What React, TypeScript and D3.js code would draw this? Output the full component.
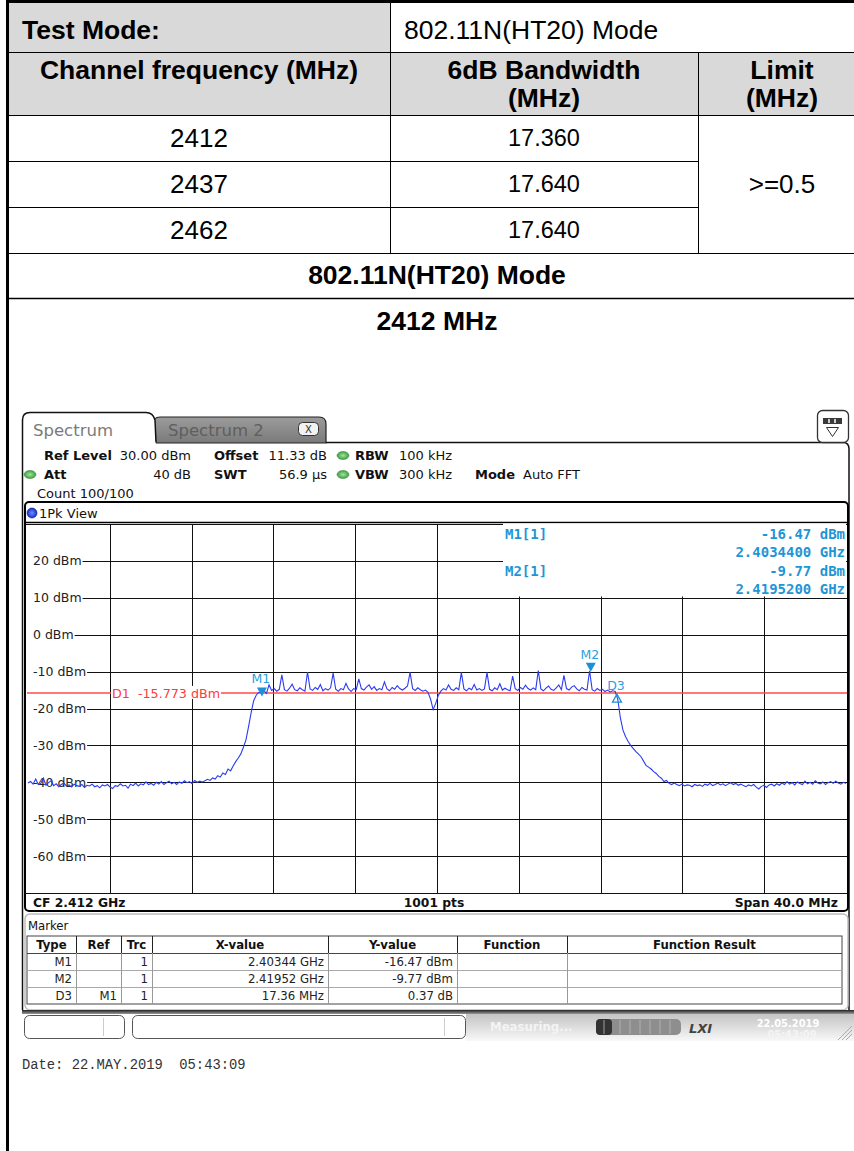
import React, { useEffect, useRef } from "react";
import * as d3 from "d3";

const W = 854;
const H = 1151;

// ---------- summary table ----------
const testModeLabel = "Test Mode:";
const testMode = "802.11N(HT20) Mode";
const headerCols = ["Channel frequency (MHz)", "6dB Bandwidth|(MHz)", "Limit|(MHz)"];
const channelFreqs = ["2412", "2437", "2462"];
const bandwidths = ["17.360", "17.640", "17.640"];
const limitText = ">=0.5";
const plotTitle = "2412 MHz";

// ---------- analyzer settings ----------
const startMHz = 2392;
const stopMHz = 2432;
const refLevel = 30;
const bottomLevel = -70;
const freqDivisions = [2396, 2400, 2404, 2408, 2412, 2416, 2420, 2424, 2428];
const levelLines = [30, 20, 10, 0, -10, -20, -30, -40, -50, -60, -70];
const levelLabels = [20, 10, 0, -10, -20, -30, -40, -50, -60];
const displayLineLevel = -15.773;

// trace, 321 sweep points evenly spaced over the 40 MHz span (dBm)
const traceLevels = [
  -40.2, -39.8, -40.5, -39.1, -40.6, -40.3, -38.9, -40.8, -40.1, -39.6,
  -40.9, -40.4, -41.2, -40.6, -40.2, -41.0, -40.7, -41.3, -40.5, -40.9,
  -41.1, -40.6, -41.4, -40.8, -41.0, -40.5, -41.2, -40.9, -41.5, -40.7,
  -41.0, -40.6, -41.3, -41.7, -40.9, -41.1, -40.4, -41.0, -40.8, -41.6,
  -40.5, -40.9, -40.2, -41.0, -40.4, -40.7, -39.9, -40.6, -40.3, -40.8,
  -40.0, -40.5, -39.8, -40.6, -40.1, -39.7, -40.4, -40.0, -40.6, -39.9,
  -40.3, -39.6, -40.1, -39.8, -40.4, -39.5, -40.0, -39.7, -39.9,
  -39.6, -39.2, -39.5, -38.8, -39.1, -38.2, -38.6, -37.5, -37.9, -36.4,
  -36.9, -35.6, -34.4, -33.4, -32.3, -30.5, -28.5, -25.0, -21.2, -17.9,
  -16.4, -15.6,
  -15.8, -15.2, -15.9, -13.6, -15.1, -14.6, -15.3, -14.8,
  -10.9, -14.9, -15.3, -14.5, -13.4, -14.9, -15.2, -14.4, -14.9, -15.3,
  -10.1, -14.7, -15.1, -14.3, -14.8, -13.5, -15.2, -14.6, -15.0, -14.4,
  -10.4, -14.8, -15.3, -14.6, -14.9, -13.2, -14.7, -15.4, -14.6, -14.9,
  -12.0, -14.6, -15.0, -14.2, -13.6, -14.8, -14.1, -15.1, -14.6, -14.9,
  -12.8, -14.7, -15.2, -14.3, -14.8, -13.8, -14.6, -15.0, -14.5, -13.9,
  -10.2, -14.6, -15.1, -14.4, -14.9, -15.3, -15.0, -15.6, -17.5, -20.3,
  -18.6, -16.5, -15.3, -14.6, -15.0, -13.6, -14.8, -15.1, -14.4, -14.9,
  -10.2, -14.7, -15.2, -14.5, -14.9, -13.5, -15.0, -14.6, -15.1, -14.7,
  -10.2, -14.8, -15.2, -14.4, -14.9, -13.3, -15.0, -14.5, -14.9, -15.2,
  -11.2, -14.6, -15.1, -14.3, -14.8, -13.7, -14.6, -15.0, -14.4, -14.9,
  -9.7, -14.7, -15.2, -14.5, -13.9, -14.8, -15.1, -14.4, -13.6, -14.9,
  -11.0, -14.6, -15.0, -14.2, -13.8, -14.7, -15.2, -14.3, -14.8, -15.0,
  -9.77, -14.9, -15.3, -14.6, -15.1, -14.8, -15.4, -15.0, -15.5, -15.2,
  -15.4, -17.5, -22.5, -25.8, -27.6, -28.9, -30.0, -30.8, -31.6, -32.3,
  -33.0, -34.2, -35.4, -35.9, -36.4, -37.1, -37.6, -38.4, -38.9, -39.8,
  -39.5, -40.3, -40.6, -40.2,
  -40.6, -40.9, -40.5, -41.0, -40.7, -40.8, -41.2, -40.6, -40.9, -40.7,
  -41.1, -40.5, -40.8, -40.3, -40.9, -40.6, -40.2, -40.7, -40.4, -40.9,
  -40.5, -40.1, -40.6, -40.3, -40.8, -40.5, -40.9, -41.2, -40.7, -41.0,
  -40.6, -41.3, -41.8, -41.1, -40.8, -41.4, -40.7, -40.5, -41.0, -40.4,
  -40.8, -40.2, -40.6, -39.8, -40.5, -40.1, -40.7, -39.9, -40.3, -40.6,
  -39.7, -40.4, -40.0, -40.5, -39.6, -40.2, -40.4, -39.9, -40.6, -40.1,
  -39.8, -40.3, -39.7, -40.2, -40.5, -40.0, -40.3,
];

// markers
const markerNames = ["M1", "M2", "D3"];
const markerFreqMHz = [2403.44, 2419.52, 2420.8];
const markerLevels = [-16.47, -9.77, -16.1];
const markerKinds = ["normal", "normal", "delta"];

const markerInfoLines = [
  ["M1[1]", "-16.47 dBm"],
  ["", "2.4034400 GHz"],
  ["M2[1]", "-9.77 dBm"],
  ["", "2.4195200 GHz"],
];

const markerTableHeaders = ["Type", "Ref", "Trc", "X-value", "Y-value", "Function", "Function Result"];
const markerTableRows = [
  ["M1", "", "1", "2.40344 GHz", "-16.47 dBm", "", ""],
  ["M2", "", "1", "2.41952 GHz", "-9.77 dBm", "", ""],
  ["D3", "M1", "1", "17.36 MHz", "0.37 dB", "", ""],
];

const infoRows = [
  [
    { t: "Ref Level", b: true, x: 44 },
    { t: "30.00 dBm", x: 191, end: true },
    { t: "Offset", b: true, x: 214 },
    { t: "11.33 dB", x: 327, end: true },
    { t: "RBW", b: true, x: 355, dot: true },
    { t: "100 kHz", x: 399 },
  ],
  [
    { t: "Att", b: true, x: 44, dotLeft: true },
    { t: "40 dB", x: 191, end: true },
    { t: "SWT", b: true, x: 214 },
    { t: "56.9 µs", x: 327, end: true },
    { t: "VBW", b: true, x: 355, dot: true },
    { t: "300 kHz", x: 399 },
    { t: "Mode", b: true, x: 475 },
    { t: "Auto FFT", x: 523 },
  ],
  [{ t: "Count 100/100", x: 37 }],
];

const TF = "'Liberation Sans', Arial, sans-serif";
const SF = "'DejaVu Sans', Verdana, sans-serif";
const CF = "'DejaVu Sans Condensed', 'DejaVu Sans', sans-serif";
const MF = "'DejaVu Sans Mono', monospace";

function draw(svgEl: SVGSVGElement) {
  const svg = d3.select(svgEl);
  svg.selectAll("*").remove();
  const defs = svg.append("defs");

  svg.append("rect").attr("width", W).attr("height", H).attr("fill", "#fff");

  // ---------------- table ----------------
  const t = svg.append("g");
  const gray = "#d9d9d9";
  t.append("rect").attr("x", 8).attr("y", 2).attr("width", 382).attr("height", 50).attr("fill", gray);
  t.append("rect").attr("x", 8).attr("y", 52).attr("width", 846).attr("height", 63).attr("fill", gray);

  const hl = (y: number, x1: number, x2: number, w = 1) =>
    t.append("line").attr("x1", x1).attr("x2", x2).attr("y1", y).attr("y2", y).attr("stroke", "#000").attr("stroke-width", w);
  const vl = (x: number, y1: number, y2: number, w = 1) =>
    t.append("line").attr("x1", x).attr("x2", x).attr("y1", y1).attr("y2", y2).attr("stroke", "#000").attr("stroke-width", w);
  hl(52.5, 8, 854);
  hl(115.5, 8, 854);
  hl(161.5, 8, 698);
  hl(207.5, 8, 698);
  hl(253.5, 8, 854);
  hl(298.5, 8, 854, 1.5);
  vl(390.5, 2, 253);
  vl(698.5, 52, 253);
  t.append("rect").attr("x", 6).attr("y", 0).attr("width", 848).attr("height", 3).attr("fill", "#000");
  t.append("rect").attr("x", 6).attr("y", 0).attr("width", 3).attr("height", H).attr("fill", "#000");

  const txt = (s: string, x: number, y: number, opts: any = {}) =>
    t.append("text").attr("x", x).attr("y", y).text(s)
      .attr("font-family", TF).attr("font-size", opts.size || 26.5)
      .attr("font-weight", opts.bold ? "bold" : "normal")
      .attr("text-anchor", opts.anchor || "middle").attr("fill", "#000");

  txt(testModeLabel, 22, 39, { bold: true, anchor: "start" });
  txt(testMode, 404, 39, { anchor: "start", size: 26.5 });
  const colCenters = [199, 544, 782];
  headerCols.forEach((h, i) => {
    const parts = h.split("|");
    parts.forEach((p, j) => txt(p, colCenters[i], 79 + j * 28, { bold: true }));
  });
  const rowBase = [147, 193, 239];
  channelFreqs.forEach((c, i) => txt(c, colCenters[0], rowBase[i], { size: 26 }));
  bandwidths.forEach((b, i) => txt(b, colCenters[1], rowBase[i] - 1, { size: 23.5 }));
  txt(limitText, colCenters[2], 193, { size: 26 });
  txt(testMode, 437, 284, { bold: true });
  txt(plotTitle, 437, 330, { bold: true });

  // ---------------- analyzer ----------------
  const a = svg.append("g");

  const g1 = defs.append("linearGradient").attr("id", "tab2").attr("x1", 0).attr("x2", 0).attr("y1", 0).attr("y2", 1);
  g1.append("stop").attr("offset", "0").attr("stop-color", "#9c9c9c");
  g1.append("stop").attr("offset", "1").attr("stop-color", "#7a7a7a");
  const g2 = defs.append("radialGradient").attr("id", "gdot");
  g2.append("stop").attr("offset", "0").attr("stop-color", "#9be89b");
  g2.append("stop").attr("offset", "1").attr("stop-color", "#3f9f3f");
  const g3 = defs.append("radialGradient").attr("id", "bdot");
  g3.append("stop").attr("offset", "0").attr("stop-color", "#6f8fff");
  g3.append("stop").attr("offset", "1").attr("stop-color", "#1030d0");
  const g4 = defs.append("linearGradient").attr("id", "sbar").attr("x1", 0).attr("x2", 0).attr("y1", 0).attr("y2", 1);
  g4.append("stop").attr("offset", "0").attr("stop-color", "#c4c4c4");
  g4.append("stop").attr("offset", "1").attr("stop-color", "#f8f8f8");
  const g5 = defs.append("linearGradient").attr("id", "sline").attr("x1", 0).attr("x2", 0).attr("y1", 0).attr("y2", 1);
  g5.append("stop").attr("offset", "0").attr("stop-color", "#222");
  g5.append("stop").attr("offset", "1").attr("stop-color", "#999");

  // tab 2
  a.append("path")
    .attr("d", "M153,443 V424 Q153,417 160,417 H319 Q326,417 326,424 V443 Z")
    .attr("fill", "url(#tab2)").attr("stroke", "#222").attr("stroke-width", 1.2);
  a.append("text").attr("x", 168).attr("y", 436).text("Spectrum 2")
    .attr("font-family", SF).attr("font-size", 16.5).attr("fill", "#5e5e5e");
  a.append("rect").attr("x", 298.5).attr("y", 422.5).attr("width", 20).attr("height", 13).attr("rx", 4)
    .attr("fill", "#f2f2f2").attr("stroke", "#333");
  a.append("text").attr("x", 308.5).attr("y", 433).text("X").attr("text-anchor", "middle")
    .attr("font-family", SF).attr("font-size", 10).attr("fill", "#333");

  // panel top line
  a.append("path").attr("d", "M326,442.5 H843 Q849,442.5 849,449 V1010")
    .attr("fill", "none").attr("stroke", "#111").attr("stroke-width", 1.5);
  // tab 1
  a.append("path")
    .attr("d", "M22.5,1010 V420 Q22.5,412.5 30,412.5 H146 Q153,412.5 155,420 L156,442.5")
    .attr("fill", "#fff").attr("stroke", "#111").attr("stroke-width", 1.5);
  a.append("text").attr("x", 33).attr("y", 436).text("Spectrum")
    .attr("font-family", SF).attr("font-size", 16.5).attr("fill", "#7a7a7a");

  // right icon
  a.append("rect").attr("x", 817.5).attr("y", 410.5).attr("width", 31).attr("height", 32).attr("rx", 5)
    .attr("fill", "#fff").attr("stroke", "#333").attr("stroke-width", 1.3);
  a.append("rect").attr("x", 823).attr("y", 418).attr("width", 19).attr("height", 6).attr("fill", "#3a3a3a");
  [829, 835].forEach((xx) =>
    a.append("line").attr("x1", xx).attr("x2", xx).attr("y1", 419).attr("y2", 423).attr("stroke", "#fff").attr("stroke-width", 1.5));
  a.append("path").attr("d", "M826.5,427.5 H838.5 L832.5,436.5 Z").attr("fill", "none").attr("stroke", "#333");

  // info rows
  const infoY = [460, 479, 498];
  infoRows.forEach((row, ri) => {
    row.forEach((c: any) => {
      a.append("text").attr("x", c.x).attr("y", infoY[ri]).text(c.t)
        .attr("font-family", SF).attr("font-size", 13)
        .attr("font-weight", c.b ? "bold" : "normal")
        .attr("text-anchor", c.end ? "end" : "start").attr("fill", "#111");
      if (c.dot) {
        a.append("ellipse").attr("cx", c.x - 12).attr("cy", infoY[ri] - 4.5).attr("rx", 6).attr("ry", 4)
          .attr("fill", "url(#gdot)").attr("stroke", "#4a8a4a").attr("stroke-width", 0.6);
      }
      if (c.dotLeft) {
        a.append("ellipse").attr("cx", 30).attr("cy", infoY[ri] - 4.5).attr("rx", 6).attr("ry", 4)
          .attr("fill", "url(#gdot)").attr("stroke", "#4a8a4a").attr("stroke-width", 0.6);
      }
    });
  });

  // plot frame
  const x = d3.scaleLinear().domain([startMHz, stopMHz]).range([28, 846]);
  const y = d3.scaleLinear().domain([bottomLevel, refLevel]).range([893, 524]);

  a.append("rect").attr("x", 25).attr("y", 502).attr("width", 823).attr("height", 409).attr("rx", 4)
    .attr("fill", "#fff").attr("stroke", "#000").attr("stroke-width", 2);
  a.append("line").attr("x1", 25).attr("x2", 848).attr("y1", 522.5).attr("y2", 522.5).attr("stroke", "#000").attr("stroke-width", 1.5);
  a.append("circle").attr("cx", 32).attr("cy", 513).attr("r", 5).attr("fill", "url(#bdot)").attr("stroke", "#0a1a80").attr("stroke-width", 0.6);
  a.append("text").attr("x", 39).attr("y", 517.5).text("1Pk View")
    .attr("font-family", SF).attr("font-size", 13).attr("fill", "#111");

  const grid = a.append("g");
  freqDivisions.forEach((f) =>
    grid.append("line").attr("x1", Math.round(x(f)) + 0.5).attr("x2", Math.round(x(f)) + 0.5)
      .attr("y1", y(refLevel)).attr("y2", y(bottomLevel)).attr("stroke", "#111").attr("stroke-width", 1));

  const labelX = 33;
  levelLines.forEach((lv) => {
    let x1 = 25;
    if (levelLabels.includes(lv)) {
      const tx = grid.append("text").attr("x", labelX).attr("y", y(lv) + 4.5).text(`${lv} dBm`)
        .attr("font-family", SF).attr("font-size", 12.5).attr("fill", "#222");
      const len = (tx.node() as SVGTextElement).getComputedTextLength();
      x1 = labelX + len + 1;
      grid.append("rect").attr("x", 26).attr("y", y(lv) - 7).attr("width", x1 - 26).attr("height", 13).attr("fill", "#fff").lower();
    }
    grid.append("line").attr("x1", x1).attr("x2", 847).attr("y1", Math.round(y(lv)) + 0.5).attr("y2", Math.round(y(lv)) + 0.5)
      .attr("stroke", "#111").attr("stroke-width", 1);
  });
  grid.selectAll("text").raise();

  // marker info box
  const ib = a.append("g");
  ib.append("rect").attr("x", 503).attr("y", 523.5).attr("width", 343).attr("height", 73).attr("fill", "#fff");
  const infoLineY = [539, 557, 576, 594];
  markerInfoLines.forEach((ln, i) => {
    if (ln[0]) ib.append("text").attr("x", 505).attr("y", infoLineY[i]).text(ln[0])
      .attr("font-family", MF).attr("font-size", 14).attr("font-weight", "bold").attr("fill", "#1e96d6");
    ib.append("text").attr("x", 845).attr("y", infoLineY[i]).text(ln[1]).attr("text-anchor", "end")
      .attr("font-family", MF).attr("font-size", 14).attr("font-weight", "bold").attr("fill", "#1e96d6");
  });

  // display line D1
  const dlY = y(displayLineLevel);
  a.append("line").attr("x1", 27).attr("x2", 847).attr("y1", dlY).attr("y2", dlY)
    .attr("stroke", "#ff4a4a").attr("stroke-width", 1.5);
  a.append("rect").attr("x", 111).attr("y", dlY - 7).attr("width", 110).attr("height", 13).attr("fill", "#fff");
  a.append("text").attr("x", 112).attr("y", dlY + 4.6).text(`D1  ${displayLineLevel.toFixed(3)} dBm`)
    .attr("font-family", SF).attr("font-size", 12.7).attr("fill", "#ff3a3a").style("white-space", "pre");

  // trace
  const step = (stopMHz - startMHz) / (traceLevels.length - 1);
  const line = d3.line<number>().x((d, i) => x(startMHz + i * step)).y((d) => y(d));
  defs.append("clipPath").attr("id", "plotclip").append("rect").attr("x", 26).attr("y", 524).attr("width", 821).attr("height", 370);
  a.append("path").attr("d", line(traceLevels) as string).attr("fill", "none")
    .attr("stroke", "#2a3cf2").attr("stroke-width", 1.1).attr("clip-path", "url(#plotclip)");

  // markers
  const mColor = "#1e90d8";
  markerNames.forEach((n, i) => {
    const mx = x(markerFreqMHz[i]);
    const my = y(markerLevels[i]);
    if (markerKinds[i] === "normal") {
      a.append("path").attr("d", `M${mx - 5},${my - 8} H${mx + 5} L${mx},${my + 1} Z`).attr("fill", mColor);
      a.append("text").attr("x", mx - 1).attr("y", my - 12).text(n).attr("text-anchor", "middle")
        .attr("font-family", SF).attr("font-size", 12.5).attr("fill", "#2a9fdc");
    } else {
      a.append("path").attr("d", `M${mx},${my} L${mx + 4.5},${my + 8} H${mx - 4.5} Z`).attr("fill", "none")
        .attr("stroke", mColor).attr("stroke-width", 1.3);
      a.append("text").attr("x", mx - 1).attr("y", my - 4).text(n).attr("text-anchor", "middle")
        .attr("font-family", SF).attr("font-size", 12.5).attr("fill", "#2a9fdc");
    }
  });

  // bottom strip
  const by = 907;
  const bs = (s: string, xx: number, anchor: string) =>
    a.append("text").attr("x", xx).attr("y", by).text(s).attr("text-anchor", anchor)
      .attr("font-family", SF).attr("font-size", 12.3).attr("font-weight", "bold").attr("fill", "#111");
  bs("CF 2.412 GHz", 33, "start");
  bs("1001 pts", 434, "middle");
  bs("Span 40.0 MHz", 838, "end");

  // marker panel
  a.append("rect").attr("x", 25).attr("y", 914).attr("width", 823).attr("height", 96).attr("rx", 5)
    .attr("fill", "#fff").attr("stroke", "#bdbdbd").attr("stroke-width", 1.5);
  a.append("text").attr("x", 28).attr("y", 930).text("Marker").attr("font-family", CF).attr("font-size", 13).attr("fill", "#111");
  const edges = [27, 76, 121, 152, 328, 457, 567, 842];
  const rowYs = [936, 953, 970, 987, 1004];
  a.append("rect").attr("x", edges[0]).attr("y", rowYs[0]).attr("width", edges[7] - edges[0]).attr("height", rowYs[4] - rowYs[0])
    .attr("fill", "none").attr("stroke", "#444").attr("stroke-width", 1);
  rowYs.slice(1, 4).forEach((ry, i) =>
    a.append("line").attr("x1", edges[0]).attr("x2", edges[7]).attr("y1", ry + 0.5).attr("y2", ry + 0.5)
      .attr("stroke", i === 0 ? "#444" : "#aaa"));
  edges.slice(1, 7).forEach((ex) => {
    a.append("line").attr("x1", ex + 0.5).attr("x2", ex + 0.5).attr("y1", rowYs[0]).attr("y2", rowYs[1])
      .attr("stroke", "#222");
    a.append("line").attr("x1", ex + 0.5).attr("x2", ex + 0.5).attr("y1", rowYs[1]).attr("y2", rowYs[4])
      .attr("stroke", "#999");
  });
  markerTableHeaders.forEach((h, i) =>
    a.append("text").attr("x", (edges[i] + edges[i + 1]) / 2).attr("y", rowYs[0] + 13).text(h)
      .attr("text-anchor", "middle").attr("font-family", CF).attr("font-size", 13).attr("font-weight", "bold").attr("fill", "#111"));
  markerTableRows.forEach((r, ri) =>
    r.forEach((c, ci) => {
      if (!c) return;
      a.append("text").attr("x", edges[ci + 1] - 4).attr("y", rowYs[ri + 1] + 13).text(c)
        .attr("text-anchor", "end").attr("font-family", CF).attr("font-size", 13).attr("fill", "#222");
    }));

  // status bar
  a.append("rect").attr("x", 22).attr("y", 1010).attr("width", 832).attr("height", 4).attr("fill", "url(#sline)");
  a.append("rect").attr("x", 466).attr("y", 1014).attr("width", 388).attr("height", 27).attr("fill", "url(#sbar)");
  a.append("rect").attr("x", 24.5).attr("y", 1015.5).attr("width", 100).attr("height", 23).attr("rx", 5)
    .attr("fill", "#fff").attr("stroke", "#555");
  a.append("line").attr("x1", 103.5).attr("x2", 103.5).attr("y1", 1018).attr("y2", 1036).attr("stroke", "#ccc");
  a.append("rect").attr("x", 132.5).attr("y", 1015.5).attr("width", 333).attr("height", 23).attr("rx", 5)
    .attr("fill", "#fff").attr("stroke", "#555");
  a.append("line").attr("x1", 444.5).attr("x2", 444.5).attr("y1", 1018).attr("y2", 1036).attr("stroke", "#ccc");
  a.append("text").attr("x", 490).attr("y", 1031).text("Measuring...").attr("font-family", CF).attr("font-size", 13)
    .attr("font-weight", "bold").attr("fill", "#f4f4f4");
  a.append("rect").attr("x", 596).attr("y", 1019).attr("width", 85).attr("height", 16).attr("rx", 5).attr("fill", "#8e8e8e");
  a.append("rect").attr("x", 596).attr("y", 1019).attr("width", 16).attr("height", 16).attr("rx", 4).attr("fill", "#333");
  [604, 620, 630, 640, 650, 660, 670].forEach((sx) =>
    a.append("line").attr("x1", sx).attr("x2", sx).attr("y1", 1020).attr("y2", 1034).attr("stroke", "#bbb").attr("stroke-width", 0.8));
  a.append("text").attr("x", 689).attr("y", 1033).text("LXI").attr("font-family", SF).attr("font-size", 13)
    .attr("font-weight", "bold").attr("font-style", "italic").attr("fill", "#444");
  a.append("text").attr("x", 788).attr("y", 1027).text("22.05.2019").attr("text-anchor", "middle")
    .attr("font-family", CF).attr("font-size", 11).attr("font-weight", "bold").attr("fill", "#fff");
  a.append("text").attr("x", 792).attr("y", 1038).text("05:43:09").attr("text-anchor", "middle")
    .attr("font-family", CF).attr("font-size", 11).attr("font-weight", "bold").attr("fill", "#f4f4f4");
  [0, 4, 8].forEach((o) =>
    a.append("line").attr("x1", 838 + o).attr("x2", 852).attr("y1", 1040).attr("y2", 1026 + o).attr("stroke", "#aaa"));

  // date stamp
  a.append("text").attr("x", 22).attr("y", 1069).text("Date: 22.MAY.2019  05:43:09")
    .attr("font-family", "'Liberation Mono', 'Courier New', monospace").attr("font-size", 13.8)
    .attr("fill", "#333").style("white-space", "pre");
}

export default function App() {
  const ref = useRef<SVGSVGElement>(null);
  useEffect(() => {
    if (ref.current) draw(ref.current);
  }, []);
  return (
    <svg
      ref={ref}
      width={W}
      height={H}
      style={{ position: "absolute", left: 0, top: 0, display: "block" }}
    />
  );
}
